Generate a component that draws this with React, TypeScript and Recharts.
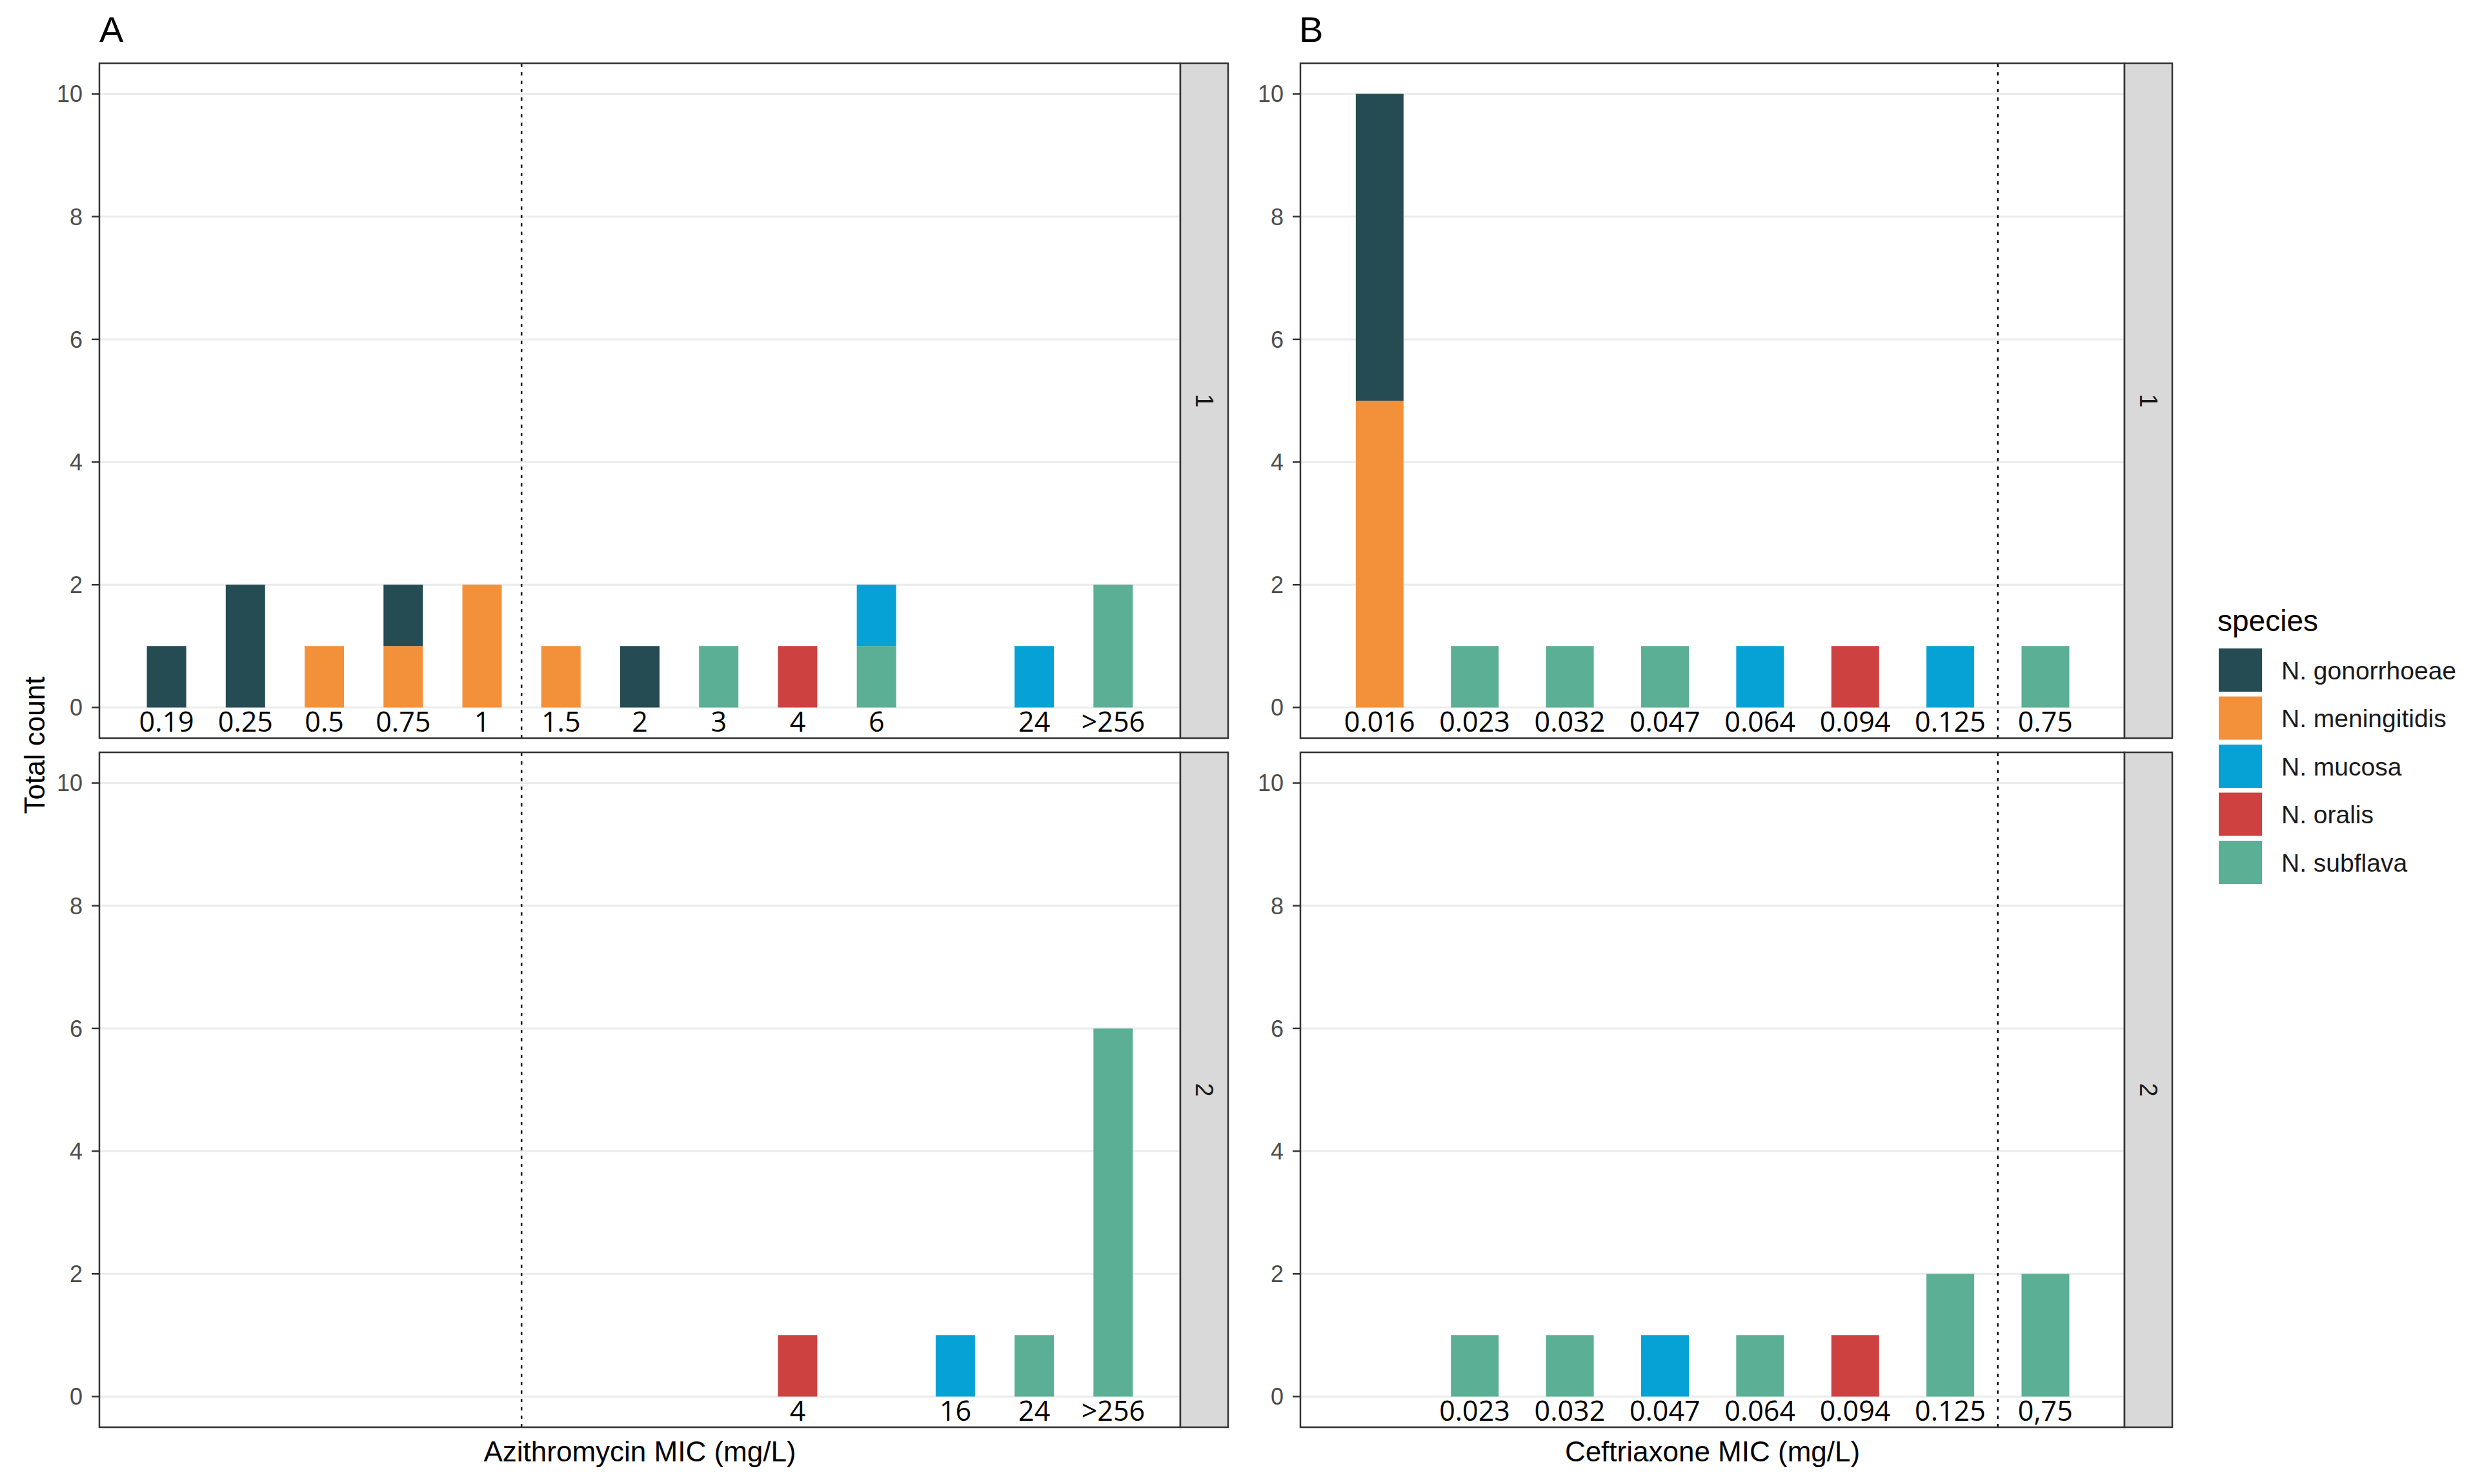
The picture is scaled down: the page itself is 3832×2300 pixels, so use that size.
import React from "react";
import { BarChart, Bar, XAxis, YAxis, CartesianGrid, ReferenceLine } from "recharts";

const species = ["N. gonorrhoeae", "N. meningitidis", "N. mucosa", "N. oralis", "N. subflava"];
const speciesKeys = ["gon", "men", "muc", "ora", "sub"];
const speciesColors = ["#254b53", "#f3913a", "#06a2d6", "#cd4140", "#5aaf94"];

const aziMic = ["0.19", "0.25", "0.5", "0.75", "1", "1.5", "2", "3", "4", "6", "16", "24", ">256"];
const cefMic = ["0.016", "0.023", "0.032", "0.047", "0.064", "0.094", "0.125", "0.75"];
const cefRow2Labels = ["0.016", "0.023", "0.032", "0.047", "0.064", "0.094", "0.125", "0,75"];

const yTicks = [0, 2, 4, 6, 8, 10];
const yMinor = [1, 3, 5, 7, 9];

// Azithromycin, row 1
const aziRow1Gon = [1, 2, 0, 1, 0, 0, 1, 0, 0, 0, 0, 0, 0];
const aziRow1Men = [0, 0, 1, 1, 2, 1, 0, 0, 0, 0, 0, 0, 0];
const aziRow1Muc = [0, 0, 0, 0, 0, 0, 0, 0, 0, 1, 0, 1, 0];
const aziRow1Ora = [0, 0, 0, 0, 0, 0, 0, 0, 1, 0, 0, 0, 0];
const aziRow1Sub = [0, 0, 0, 0, 0, 0, 0, 1, 0, 1, 0, 0, 2];

// Azithromycin, row 2
const aziRow2Gon = [0, 0, 0, 0, 0, 0, 0, 0, 0, 0, 0, 0, 0];
const aziRow2Men = [0, 0, 0, 0, 0, 0, 0, 0, 0, 0, 0, 0, 0];
const aziRow2Muc = [0, 0, 0, 0, 0, 0, 0, 0, 0, 0, 1, 0, 0];
const aziRow2Ora = [0, 0, 0, 0, 0, 0, 0, 0, 1, 0, 0, 0, 0];
const aziRow2Sub = [0, 0, 0, 0, 0, 0, 0, 0, 0, 0, 0, 1, 6];

// Ceftriaxone, row 1
const cefRow1Gon = [5, 0, 0, 0, 0, 0, 0, 0];
const cefRow1Men = [5, 0, 0, 0, 0, 0, 0, 0];
const cefRow1Muc = [0, 0, 0, 0, 1, 0, 1, 0];
const cefRow1Ora = [0, 0, 0, 0, 0, 1, 0, 0];
const cefRow1Sub = [0, 1, 1, 1, 0, 0, 0, 1];

// Ceftriaxone, row 2
const cefRow2Gon = [0, 0, 0, 0, 0, 0, 0, 0];
const cefRow2Men = [0, 0, 0, 0, 0, 0, 0, 0];
const cefRow2Muc = [0, 0, 0, 1, 0, 0, 0, 0];
const cefRow2Ora = [0, 0, 0, 0, 0, 1, 0, 0];
const cefRow2Sub = [0, 1, 1, 0, 1, 0, 2, 2];

const SANS = "'Liberation Sans', Arial, sans-serif";
const LABEL_FONT = "'Open Sans', 'Noto Sans', sans-serif";

const PLOT_H = 1046;
const X_H = 24;
const ROW_TOP = [98, 1166];
const A_LEFT = 154;
const A_W = 1675;
const B_LEFT = 2015;
const B_W = 1277;
const STRIP_W = 74;
const Y_W = 94;

function buildRows(mic: string[], labels: string[], series: number[][]) {
  return mic.map((m, i) => {
    const row: any = { mic: m, label: labels[i], total: 0 };
    speciesKeys.forEach((k, s) => {
      row[k] = series[s][i];
      row.total += series[s][i];
    });
    return row;
  });
}

const aziRow1 = buildRows(aziMic, aziMic, [aziRow1Gon, aziRow1Men, aziRow1Muc, aziRow1Ora, aziRow1Sub]);
const aziRow2 = buildRows(aziMic, aziMic, [aziRow2Gon, aziRow2Men, aziRow2Muc, aziRow2Ora, aziRow2Sub]);
const cefRow1 = buildRows(cefMic, cefMic, [cefRow1Gon, cefRow1Men, cefRow1Muc, cefRow1Ora, cefRow1Sub]);
const cefRow2 = buildRows(cefMic, cefRow2Labels, [cefRow2Gon, cefRow2Men, cefRow2Muc, cefRow2Ora, cefRow2Sub]);

// ggplot stacks the first level on top, so subflava goes first (bottom)
const stackOrder = [4, 3, 2, 1, 0];

const minorGen = (props: any) => {
  const s = props?.yAxis?.scale;
  if (typeof s === "function") return yMinor.map((v) => s(v));
  return [];
};

function Panel({ left, top, width, rows, cut, pad }: any) {
  const zeroOffset = (PLOT_H * 0.5) / 11;
  const renderTick = (p: any) => {
    const row = rows.find((r: any) => r.mic === p.payload.value);
    if (!row || row.total === 0) return <g />;
    return (
      <text x={p.x} y={p.y - zeroOffset + 38} textAnchor="middle" fontSize={43} fontFamily={LABEL_FONT} fill="#000">
        {row.label}
      </text>
    );
  };
  return (
    <div style={{ position: "absolute", left: left - Y_W, top }}>
      <BarChart
        width={width + Y_W}
        height={PLOT_H + X_H}
        data={rows}
        margin={{ top: 0, right: 0, bottom: 0, left: 0 }}
        barCategoryGap="25%"
      >
        <CartesianGrid vertical={false} stroke="#ebebeb" strokeWidth={3} />
        <CartesianGrid vertical={false} horizontalCoordinatesGenerator={minorGen} stroke="#f3f3f3" strokeWidth={2} />
        <XAxis
          dataKey="mic"
          interval={0}
          tickLine={false}
          axisLine={false}
          tickSize={0}
          tickMargin={0}
          height={X_H}
          padding={{ left: pad, right: pad }}
          tick={renderTick}
        />
        <YAxis
          type="number"
          domain={[-0.5, 10.5]}
          ticks={yTicks}
          allowDataOverflow
          width={Y_W}
          axisLine={false}
          tickSize={12}
          tickMargin={14}
          tickLine={{ stroke: "#333333", strokeWidth: 2.5 }}
          tick={{ fill: "#4d4d4d", fontSize: 36, fontFamily: SANS }}
        />
        <ReferenceLine x={cut} position="end" stroke="#000" strokeWidth={2.5} strokeDasharray="5 8" />
        {stackOrder.map((i) => (
          <Bar key={speciesKeys[i]} dataKey={speciesKeys[i]} stackId="a" fill={speciesColors[i]} isAnimationActive={false} />
        ))}
      </BarChart>
    </div>
  );
}

function Strip({ x, y, text }: any) {
  return (
    <g>
      <rect x={x} y={y} width={STRIP_W} height={PLOT_H} fill="#d9d9d9" stroke="#333333" strokeWidth={2.5} />
      <text
        x={x + STRIP_W / 2}
        y={y + PLOT_H / 2}
        fontSize={38}
        fontFamily={SANS}
        fill="#1a1a1a"
        textAnchor="middle"
        dominantBaseline="central"
        transform={`rotate(90 ${x + STRIP_W / 2} ${y + PLOT_H / 2})`}
      >
        {text}
      </text>
    </g>
  );
}

export default function App() {
  return (
    <div style={{ position: "absolute", left: 0, top: 0, width: 3832, height: 2300, background: "#fff" }}>
      <Panel left={A_LEFT} top={ROW_TOP[0]} width={A_W} rows={aziRow1} cut="1" pad={43} />
      <Panel left={A_LEFT} top={ROW_TOP[1]} width={A_W} rows={aziRow2} cut="1" pad={43} />
      <Panel left={B_LEFT} top={ROW_TOP[0]} width={B_W} rows={cefRow1} cut="0.125" pad={49} />
      <Panel left={B_LEFT} top={ROW_TOP[1]} width={B_W} rows={cefRow2} cut="0.125" pad={49} />

      <svg width={3832} height={2300} style={{ position: "absolute", left: 0, top: 0, pointerEvents: "none" }}>
        {ROW_TOP.map((t) => (
          <g key={t}>
            <rect x={A_LEFT} y={t} width={A_W} height={PLOT_H} fill="none" stroke="#333333" strokeWidth={2.5} />
            <rect x={B_LEFT} y={t} width={B_W} height={PLOT_H} fill="none" stroke="#333333" strokeWidth={2.5} />
          </g>
        ))}
        <Strip x={A_LEFT + A_W} y={ROW_TOP[0]} text="1" />
        <Strip x={A_LEFT + A_W} y={ROW_TOP[1]} text="2" />
        <Strip x={B_LEFT + B_W} y={ROW_TOP[0]} text="1" />
        <Strip x={B_LEFT + B_W} y={ROW_TOP[1]} text="2" />

        <text x={154} y={65} fontSize={56} fontFamily={SANS} fill="#000">A</text>
        <text x={2013} y={65} fontSize={56} fontFamily={SANS} fill="#000">B</text>

        <text x={A_LEFT + A_W / 2} y={2265} fontSize={44} fontFamily={SANS} fill="#000" textAnchor="middle">
          Azithromycin MIC (mg/L)
        </text>
        <text x={B_LEFT + B_W / 2} y={2265} fontSize={44} fontFamily={SANS} fill="#000" textAnchor="middle">
          Ceftriaxone MIC (mg/L)
        </text>
        <text
          x={53}
          y={1155}
          fontSize={44}
          fontFamily={SANS}
          fill="#000"
          textAnchor="middle"
          dominantBaseline="central"
          transform="rotate(-90 53 1155)"
        >
          Total count
        </text>

        <text x={3436} y={978} fontSize={46} fontFamily={SANS} fill="#000">species</text>
        {species.map((name, i) => {
          const y = 1005 + i * 74.5;
          return (
            <g key={name}>
              <rect x={3438} y={y} width={67} height={67} fill={speciesColors[i]} />
              <text x={3535} y={y + 34} fontSize={39} fontFamily={SANS} fill="#1a1a1a" dominantBaseline="central">
                {name}
              </text>
            </g>
          );
        })}
      </svg>
    </div>
  );
}
